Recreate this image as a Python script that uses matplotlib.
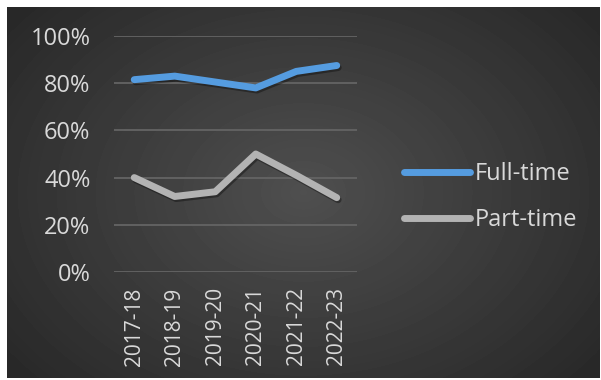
import numpy as np
import matplotlib.pyplot as plt
import matplotlib.patheffects as pe

years = ['2017-18', '2018-19', '2019-20', '2020-21', '2021-22', '2022-23']
full_time = [81.5, 83, 80.5, 78, 85, 87.5]
part_time = [40, 32, 34, 50, 41, 31.5]
y_ticks = [0, 20, 40, 60, 80, 100]

plt.rcParams['font.family'] = ['Open Sans', 'DejaVu Sans']

W, H = 601, 380
fig = plt.figure(figsize=(W / 100, H / 100), dpi=100, facecolor='white')

# dark radial gradient panel behind everything
bg = fig.add_axes([7 / W, 2 / H, 593 / W, 371 / H])
gx, gy = np.meshgrid(np.linspace(-1, 1, 593), np.linspace(-1, 1, 371))
r = np.sqrt((gx * 0.95) ** 2 + (gy * 0.8) ** 2)
shade = 0.31 - 0.15 * np.clip(r, 0, 1.2) / 1.2
bg.imshow(shade, cmap='gray', vmin=0, vmax=1, aspect='auto', interpolation='bilinear')
bg.set_axis_off()

ax = fig.add_axes([114 / W, 108 / H, 243 / W, 236 / H])
ax.patch.set_alpha(0)
x = np.arange(len(years))

shadow = [pe.SimpleLineShadow(offset=(1, -1.5), shadow_color='black', alpha=0.35), pe.Normal()]
ax.plot(x, full_time, color='#559ce0', lw=5, solid_capstyle='round', solid_joinstyle='round',
        label='Full-time', path_effects=shadow, zorder=3)
ax.plot(x, part_time, color='#b3b3b3', lw=5, solid_capstyle='round', solid_joinstyle='round',
        label='Part-time', path_effects=shadow, zorder=3)

ax.set_xlim(-0.5, len(years) - 0.5)
ax.set_ylim(0, 100)
ax.set_yticks(y_ticks)
ax.set_yticklabels([f'{t}%' for t in y_ticks])
ax.set_xticks(x)
ax.set_xticklabels(years, rotation=90)
ax.grid(axis='y', color='#646464', lw=1.3)
ax.set_axisbelow(True)
for s in ax.spines.values():
    s.set_visible(False)
ax.tick_params(axis='y', length=0, pad=17, labelsize=17, labelcolor='#d9d9d9')
ax.tick_params(axis='x', length=0, pad=11, labelsize=15, labelcolor='#d9d9d9')

leg = fig.legend(loc='center left', bbox_to_anchor=(383 / W, (380 - 197) / H), frameon=False,
                 fontsize=17, handlelength=2.8, handletextpad=0.2, labelspacing=0.95,
                 labelcolor='#d9d9d9')
for line in leg.get_lines():
    line.set_path_effects([])

fig.savefig('out.png', dpi=100, facecolor='white')
